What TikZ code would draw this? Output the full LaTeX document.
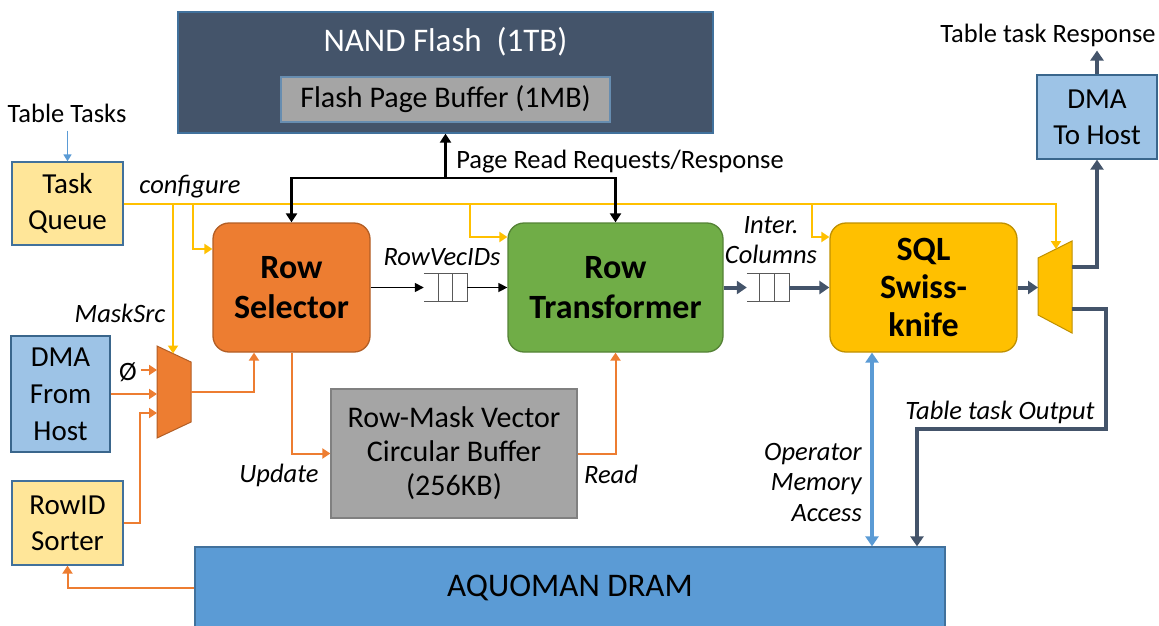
\documentclass[tikz,border=0pt]{standalone}
\usepackage{fontspec}
\setmainfont{Carlito}
\usetikzlibrary{arrows.meta}
\definecolor{slate}{HTML}{44546A}
\definecolor{ylw}{HTML}{FFC000}
\definecolor{org}{HTML}{ED7D31}
\definecolor{grn}{HTML}{70AD47}
\definecolor{lblue}{HTML}{9DC3E6}
\definecolor{mblue}{HTML}{5B9BD5}
\definecolor{lyel}{HTML}{FFE699}
\definecolor{gry}{HTML}{A5A5A5}
\definecolor{bord}{HTML}{41719C}
\tikzset{
  box/.style={draw, line width=1.3pt, align=center, inner sep=0pt},
  rbox/.style={box, rounded corners=16pt},
  txt/.style={font=\fontsize{29}{36}\selectfont, align=center},
  btxt/.style={font=\fontsize{34}{40}\selectfont\bfseries, align=center},
  lbl/.style={font=\fontsize{26.5}{31}\selectfont, inner sep=0pt, align=center},
  ilbl/.style={font=\fontsize{26.5}{30.5}\selectfont\itshape, inner sep=0pt},
  yl/.style={draw=ylw, line width=2pt, -{Triangle[width=10pt,length=8pt]}},
  ol/.style={draw=org, line width=2pt, -{Triangle[width=10pt,length=8pt]}},
  bk/.style={draw=black, line width=2.5pt, -{Triangle[width=11pt,length=9pt]}},
  bkt/.style={draw=black, line width=1.5pt, -{Triangle[width=9pt,length=9pt]}},
  sl/.style={draw=slate, line width=4pt, -{Triangle[width=13pt,length=10pt]}},
  fifo/.style={draw=black!65, line width=1pt},
}
\begin{document}
\begin{tikzpicture}[x=1pt,y=-1pt]
\path[use as bounding box] (0,0) rectangle (1159,625);

% main boxes
\node[box, fill=slate, draw=bord, minimum width=535pt, minimum height=121pt] (nand) at (445.5,72.5) {};
\node[font=\fontsize{33}{38}\selectfont, text=white] (nandt) at (445.5,42) {NAND Flash~ (1TB)};
\node[box, fill=gry, draw=bord!80, minimum width=329pt, minimum height=45pt, font=\fontsize{30}{34}\selectfont] (fpb) at (445.5,99.5) {Flash Page Buffer (1MB)};

\node[box, fill=lyel, draw=bord, minimum width=111pt, minimum height=83pt, txt] (tq) at (67.5,203.5) {Task\\Queue};
\node[box, fill=lblue, draw=bord!90!black, minimum width=99pt, minimum height=116pt, txt, font=\fontsize{29}{37}\selectfont] (dmaf) at (60.5,394) {DMA\\From\\Host};
\node[box, fill=lyel, draw=bord, minimum width=111pt, minimum height=84pt, txt] (rid) at (67.5,523) {RowID\\Sorter};

\node[rbox, fill=org, draw=org!75!black, minimum width=157pt, minimum height=129pt, btxt] (rs) at (291.5,287.5) {Row\\Selector};
\node[rbox, fill=grn, draw=grn!75!black, minimum width=215pt, minimum height=129pt, btxt] (rt) at (615.5,287.5) {Row\\Transformer};
\node[rbox, fill=ylw, draw=ylw!75!black, minimum width=187pt, minimum height=129pt, btxt, font=\fontsize{34}{38}\selectfont\bfseries] (sql) at (923.5,287.5) {SQL\\Swiss-\\knife};

\node[box, fill=gry, draw=black!50, minimum width=246pt, minimum height=129pt, font=\fontsize{30}{34}\selectfont] (buf) at (454,453.5) {Row-Mask Vector\\Circular Buffer\\(256KB)};

\node[box, fill=mblue, draw=bord, minimum width=750pt, minimum height=81pt, font=\fontsize{33}{38}\selectfont] (dram) at (570,587.5) {AQUOMAN DRAM};

\node[box, fill=lblue, draw=bord!90!black, minimum width=120pt, minimum height=84pt, txt] (dmat) at (1097,117) {DMA\\To Host};

% muxes
\coordinate (m1a) at (157,346); \coordinate (m1b) at (191,362);
\coordinate (m1c) at (191,422); \coordinate (m1d) at (157,438);
\fill[org] (m1a) -- (m1b) -- (m1c) -- (m1d) -- cycle;
\draw[org!75!black, line width=1pt] (m1a) -- (m1b) -- (m1c) -- (m1d) -- cycle;
\coordinate (m1top) at (173,353.5);
\coordinate (m1i1) at (157,370);
\coordinate (m1i2) at (157,394);
\coordinate (m1i3) at (157,413);
\coordinate (m1o) at (191,392);

\coordinate (m2a) at (1038,258); \coordinate (m2b) at (1072,241);
\coordinate (m2c) at (1072,333); \coordinate (m2d) at (1038,315);
\fill[ylw] (m2a) -- (m2b) -- (m2c) -- (m2d) -- cycle;
\draw[ylw!75!black, line width=1pt] (m2a) -- (m2b) -- (m2c) -- (m2d) -- cycle;
\coordinate (m2top) at (1056,249);
\coordinate (m2i) at (1038,287.5);
\coordinate (m2o1) at (1072,267);
\coordinate (m2o2) at (1072,309);

% FIFOs
\node[minimum width=43pt, minimum height=28pt, inner sep=0pt] (q1) at (445.5,287.5) {};
\draw[fifo] (q1.north west) -- (q1.north east) -- (q1.south east) -- (q1.south west);
\draw[fifo] ([xshift=15pt]q1.north west) -- ([xshift=15pt]q1.south west);
\draw[fifo] ([xshift=29pt]q1.north west) -- ([xshift=29pt]q1.south west);
\node[minimum width=42pt, minimum height=28pt, inner sep=0pt] (q2) at (768,287.5) {};
\draw[fifo] (q2.north west) -- (q2.north east) -- (q2.south east) -- (q2.south west);
\draw[fifo] ([xshift=13pt]q2.north west) -- ([xshift=13pt]q2.south west);
\draw[fifo] ([xshift=28pt]q2.north west) -- ([xshift=28pt]q2.south west);

% labels
\node[lbl] (ttl) at (67,113) {Table Tasks};
\node[ilbl] (cfg) at (190,187) {configure};
\node[ilbl] (msk) at (120,313) {MaskSrc};
\node[lbl] (phi) at (128,372) {Ø};
\node[lbl] (prl) at (620,162) {Page Read Requests/Response};
\node[ilbl] (rvl) at (442,257) {RowVecIDs};
\node[ilbl, align=center] (icl) at (771,240) {Inter.\\Columns};
\node[ilbl] (upd) at (279,475) {Update};
\node[ilbl] (rdl) at (611,474) {Read};
\node[ilbl, align=right, anchor=east] (oma) at (862,482) {Operator\\Memory\\Access};
\node[ilbl] (tto) at (1000,412) {Table task Output};
\node[lbl] (ttr) at (1048,35) {Table task Response};

% Table tasks arrow
\draw[draw=mblue, line width=1.5pt, -{Triangle[width=8pt,length=7pt]}, shorten <=8pt] (ttl.south -| tq.north) -- (tq.north);

% configure (yellow)
\coordinate (ya) at (193,249);
\coordinate (yb) at (470,237);
\coordinate (yc) at (812,237);
\draw[yl] (tq.east) -| (m2top);
\draw[yl] (tq.east -| m1top) -- (m1top);
\draw[yl] (tq.east -| ya) |- (rs.west |- ya);
\draw[yl] (tq.east -| yb) |- (rt.west |- yb);
\draw[yl] (tq.east -| yc) |- (sql.west |- yc);

% page read (black)
\coordinate (pj) at (445.5,178);
\draw[bk] (pj) -- (pj |- nand.south);
\draw[bk] (pj) -| (rs.north);
\draw[bk] (pj) -| (rt.north);

% row vec ids
\draw[bkt] (rs.east) -- (q1.west);
\draw[bkt] (q1.east) -- (rt.west);

% inter columns (slate)
\draw[sl] (rt.east) -- (q2.west);
\draw[sl] (q2.east) -- (sql.west);
\draw[sl] (sql.east) -- (m2i);
\draw[sl] (m2o1) -| (dmat.south);
\draw[sl] (dmat.north) -- ([yshift=-4pt]ttr.south -| dmat.north);
\coordinate (tk1) at (1106,429);
\coordinate (tk2) at (917,429);
\draw[sl] (m2o2) -| (tk1) -- (tk2) -- (dram.north -| tk2);

% operator memory access (blue)
\coordinate (oa) at (872,450);
\draw[draw=mblue, line width=4pt, {Triangle[width=13pt,length=10pt]}-{Triangle[width=13pt,length=10pt]}] (sql.south -| oa) -- (dram.north -| oa);

% orange
\coordinate (o1) at (140,413);
\draw[ol] ([xshift=4pt]phi.east |- m1i1) -- (m1i1);
\draw[ol] (dmaf.east) -- (m1i2);
\draw[ol] (rid.east) -| (o1) -- (m1i3);
\coordinate (o2) at (254,392);
\draw[ol] (m1o) -- (o2) -- (rs.south -| o2);
\draw[ol] (rs.south) |- (buf.west);
\draw[ol] (buf.east) -| (rt.south);
\draw[ol] (dram.west) -| (rid.south);
\end{tikzpicture}
\end{document}
